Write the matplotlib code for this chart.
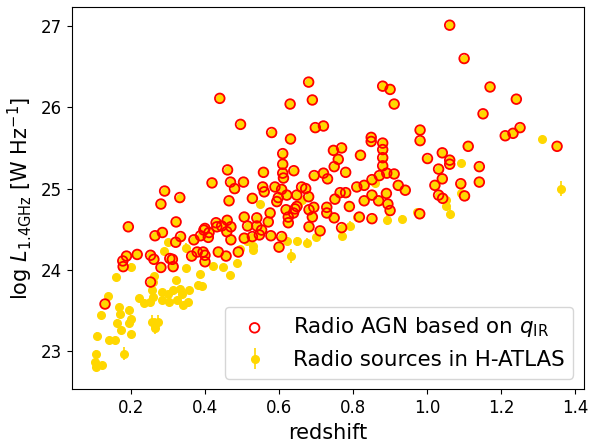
import numpy as np
import matplotlib
matplotlib.use("Agg")
import matplotlib.pyplot as plt

# radio AGN selected with q_IR (subset of the H-ATLAS radio sources)
agn_z = [0.130, 0.178, 0.179, 0.188, 0.193, 0.217, 0.253, 0.262, 0.265, 0.285,
         0.281, 0.291, 0.281, 0.332, 0.305, 0.312, 0.314, 0.321, 0.322, 0.334,
         0.253, 0.364, 0.370, 0.379, 0.388, 0.395, 0.400, 0.400, 0.397, 0.411,
         0.409, 0.400, 0.419, 0.430, 0.432, 0.436, 0.440, 0.445, 0.457, 0.460,
         0.461, 0.465, 0.469, 0.470, 0.470, 0.480, 0.490, 0.459, 0.496, 0.504,
         0.506, 0.506, 0.515, 0.528, 0.528, 0.540, 0.540, 0.547, 0.553, 0.556,
         0.560, 0.558, 0.571, 0.576, 0.580, 0.578, 0.589, 0.594, 0.598, 0.600,
         0.607, 0.607, 0.610, 0.610, 0.610, 0.612, 0.621, 0.619, 0.625, 0.625,
         0.630, 0.631, 0.640, 0.643, 0.648, 0.648, 0.661, 0.672, 0.680, 0.680,
         0.681, 0.681, 0.690, 0.690, 0.694, 0.695, 0.698, 0.711, 0.639, 0.720,
         0.720, 0.729, 0.729, 0.731, 0.747, 0.749, 0.751, 0.749, 0.760, 0.765,
         0.769, 0.769, 0.780, 0.780, 0.790, 0.810, 0.817, 0.820, 0.830, 0.830,
         0.849, 0.849, 0.851, 0.851, 0.851, 0.869, 0.871, 0.880, 0.880, 0.880,
         0.880, 0.880, 0.891, 0.890, 0.894, 0.900, 0.900, 0.911, 0.911, 0.922,
         0.941, 0.980, 0.981, 0.981, 1.001, 1.021, 1.031, 1.031, 1.041, 1.041,
         1.042, 1.061, 1.061, 1.061, 1.091, 1.100, 1.101, 1.111, 1.141, 1.141,
         1.151, 1.170, 1.211, 1.232, 1.241, 1.251, 1.351]
agn_lum = [23.58, 24.11, 24.04, 24.17, 24.53, 24.19, 24.18, 24.13, 24.42, 24.46,
           24.03, 24.97, 24.81, 24.89, 24.14, 24.13, 24.04, 24.34, 24.59, 24.41,
           23.85, 24.17, 24.37, 24.22, 24.42, 24.22, 24.18, 24.10, 24.49, 24.46,
           24.40, 24.51, 25.07, 24.58, 24.53, 24.22, 26.11, 24.54, 24.17, 24.61,
           25.23, 24.85, 25.08, 24.53, 24.37, 25.00, 24.22, 24.47, 25.79, 25.08,
           24.65, 24.39, 24.54, 24.88, 24.41, 24.64, 24.54, 24.43, 24.49, 25.02,
           24.96, 25.20, 24.59, 24.70, 25.69, 24.42, 25.02, 24.84, 24.89, 24.28,
           24.41, 24.99, 25.43, 25.30, 25.19, 25.13, 24.92, 24.74, 24.65, 24.58,
           26.04, 25.61, 25.22, 24.75, 24.92, 24.78, 25.02, 25.00, 26.31, 24.90,
           24.74, 24.53, 26.09, 24.65, 24.77, 25.16, 25.75, 24.48, 24.70, 25.77,
           25.19, 24.77, 24.70, 25.12, 25.47, 25.27, 24.87, 24.64, 25.36, 24.95,
           25.50, 24.52, 25.20, 24.95, 24.78, 25.02, 24.65, 25.41, 25.04, 24.85,
           25.63, 25.58, 25.11, 24.92, 24.63, 24.85, 25.16, 26.26, 25.56, 25.48,
           25.38, 25.28, 25.19, 24.94, 24.81, 26.22, 24.73, 26.04, 25.18, 25.04,
           24.98, 24.69, 25.72, 25.59, 25.37, 25.04, 25.24, 24.92, 25.44, 25.12,
           24.88, 27.01, 25.35, 25.30, 25.06, 26.60, 24.91, 25.52, 25.27, 25.08,
           25.92, 26.25, 25.65, 25.68, 26.10, 25.75, 25.52]

# remaining H-ATLAS radio sources (not flagged as AGN)
src_z = [0.103, 0.105, 0.107, 0.109, 0.122, 0.120, 0.139, 0.141, 0.157, 0.159,
         0.167, 0.170, 0.163, 0.173, 0.180, 0.195, 0.200, 0.195, 0.200, 0.200,
         0.221, 0.236, 0.251, 0.258, 0.263, 0.284, 0.284, 0.301, 0.304, 0.314,
         0.322, 0.324, 0.332, 0.341, 0.353, 0.358, 0.380, 0.386, 0.391, 0.421,
         0.449, 0.468, 0.487, 0.256, 0.265, 0.274, 0.265, 0.289, 0.301, 0.349,
         0.348, 0.260, 0.260, 0.337, 0.549, 0.508, 0.513, 0.495, 0.531, 0.529,
         0.621, 0.649, 0.676, 0.632, 0.700, 0.769, 0.792, 0.810, 0.891, 0.931,
         0.972, 0.859, 1.050, 1.050, 1.061, 1.091, 1.091, 1.311, 1.361, 0.651,
         0.662, 0.635]
src_lum = [22.87, 22.81, 22.97, 23.19, 22.83, 23.45, 23.68, 23.14, 23.14, 23.91,
           23.54, 23.46, 23.35, 23.26, 22.97, 23.51, 23.40, 23.35, 23.21, 24.04,
           23.65, 23.59, 23.61, 23.75, 23.92, 23.73, 23.63, 23.70, 23.60, 23.75,
           23.87, 23.63, 23.77, 23.57, 23.60, 23.75, 23.82, 23.95, 23.80, 24.05,
           24.03, 23.94, 24.09, 23.36, 23.33, 23.36, 23.29, 24.23, 24.34, 24.27,
           24.02, 23.85, 23.67, 23.70, 24.81, 24.41, 24.35, 24.26, 24.24, 24.30,
           24.36, 24.35, 24.33, 24.17, 24.41, 24.42, 24.54, 24.65, 24.61, 24.63,
           24.71, 25.07, 24.86, 24.79, 24.69, 24.95, 25.31, 25.61, 25.00, 24.80,
           24.86, 24.70]
src_err = [0.04, 0.04, 0.04, 0.04, 0.04, 0.04, 0.04, 0.04, 0.04, 0.04,
           0.04, 0.04, 0.04, 0.04, 0.08, 0.04, 0.04, 0.04, 0.04, 0.04,
           0.04, 0.04, 0.04, 0.04, 0.04, 0.04, 0.04, 0.04, 0.04, 0.04,
           0.04, 0.04, 0.04, 0.04, 0.04, 0.04, 0.04, 0.04, 0.04, 0.04,
           0.04, 0.04, 0.04, 0.08, 0.08, 0.08, 0.08, 0.04, 0.04, 0.06,
           0.04, 0.04, 0.04, 0.04, 0.04, 0.04, 0.04, 0.04, 0.04, 0.04,
           0.04, 0.05, 0.06, 0.09, 0.04, 0.05, 0.06, 0.04, 0.06, 0.04,
           0.04, 0.04, 0.04, 0.04, 0.07, 0.04, 0.04, 0.04, 0.09, 0.04,
           0.04, 0.04]
agn_err = 0.03

all_z = np.concatenate([src_z, agn_z])
all_lum = np.concatenate([src_lum, agn_lum])
all_err = np.concatenate([src_err, np.full(len(agn_z), agn_err)])

fig = plt.figure(figsize=(5.9, 4.43), dpi=100)
ax = fig.add_axes([0.1215, 0.121, 0.8685, 0.8625])

eb = ax.errorbar(all_z, all_lum, yerr=all_err, fmt='o', color='gold',
                 ms=5.5, elinewidth=1.2, capsize=0, zorder=2,
                 label='Radio sources in H-ATLAS')
sc = ax.scatter(agn_z, agn_lum, s=48, facecolors='none', edgecolors='red',
                linewidths=1.3, zorder=3, label=r'Radio AGN based on $q_{\rm IR}$')

ax.set_xlim(0.04, 1.424)
ax.set_ylim(22.53, 27.23)
ax.set_xlabel('redshift', fontsize=15)
ax.set_ylabel(r'log $L_{1.4\rm GHz}$ [W Hz$^{-1}$]', fontsize=15)
ax.tick_params(labelsize=12)
ax.legend(handles=[sc, eb], loc='lower right', fontsize=15.4)

fig.savefig('out.png', dpi=100)
